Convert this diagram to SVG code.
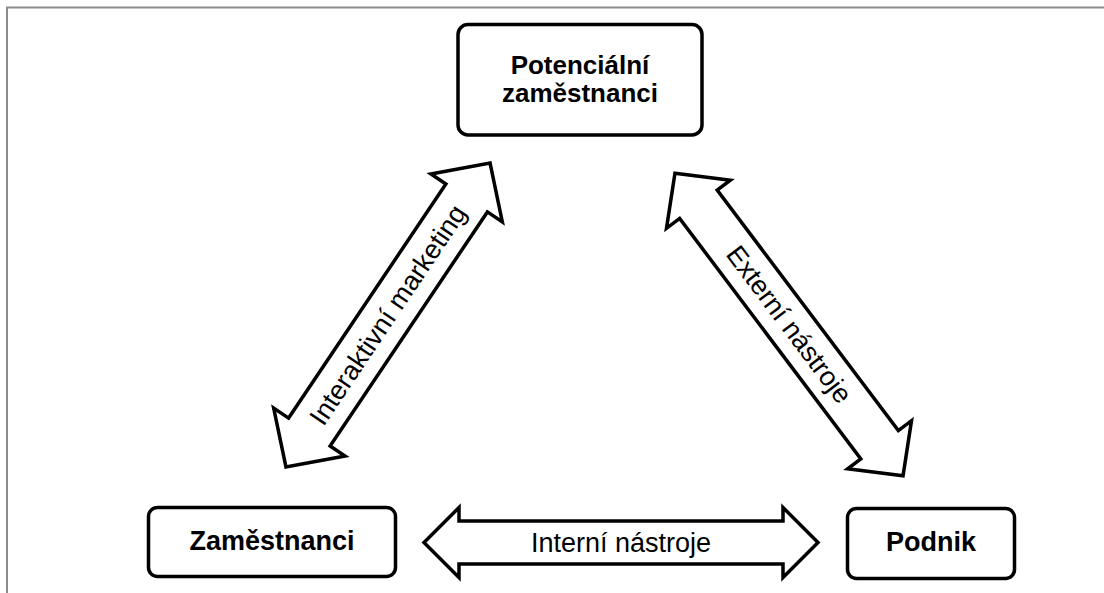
<svg xmlns="http://www.w3.org/2000/svg" width="1104" height="593" viewBox="0 0 1104 593">
<style>
.box{fill:#fff;stroke:#000;stroke-width:3.5}
.arr{fill:#fff;stroke:#000;stroke-width:3.5;stroke-linejoin:miter;stroke-miterlimit:10}
.bt{font-family:"Liberation Sans",Arial,sans-serif;font-weight:bold;font-size:27px;fill:#000;text-anchor:middle}
.bt2{font-family:"Liberation Sans",Arial,sans-serif;font-weight:bold;font-size:26px;fill:#000;text-anchor:middle}
.lt{font-family:"Liberation Sans",Arial,sans-serif;font-size:27px;fill:#000;text-anchor:middle;dominant-baseline:central}
</style>
<rect width="1104" height="593" fill="#fff"/>
<path d="M7,593 V7.5 H1104" fill="none" stroke="#8c8c8c" stroke-width="2"/>
<g id="connectors">
<g id="arrow-interaktivni" transform="translate(388,315) rotate(-56.1)">
<path class="arr" d="M-183,0 L-141,-43 L-141,-25 L141,-25 L141,-43 L183,0 L141,43 L141,25 L-141,25 L-141,43 Z"/>
<text class="lt" x="0" y="0">Interaktivní marketing</text>
</g>
<g id="arrow-externi" transform="translate(789,324.5) rotate(53)">
<path class="arr" d="M-189.5,0 L-150.5,-40 L-150.5,-23.5 L150.5,-23.5 L150.5,-40 L189.5,0 L150.5,40 L150.5,23.5 L-150.5,23.5 L-150.5,40 Z"/>
<text class="lt" x="0" y="0">Externí nástroje</text>
</g>
<g id="arrow-interni" transform="translate(621,542.5)">
<path class="arr" d="M-197,0 L-162,-35 L-162,-21.5 L162,-21.5 L162,-35 L197,0 L162,35 L162,21.5 L-162,21.5 L-162,35 Z"/>
<text class="lt" x="0" y="0">Interní nástroje</text>
</g>
</g>
<g id="node-potencialni">
<rect class="box" x="458" y="24.5" width="244" height="110.5" rx="10"/>
<text class="bt2" x="580" y="73.5">Potenciální</text>
<text class="bt2" x="580" y="101.5">zaměstnanci</text>
</g>
<g id="node-zamestnanci">
<rect class="box" x="148.5" y="507.5" width="247" height="69" rx="9"/>
<text class="bt" x="272" y="550">Zaměstnanci</text>
</g>
<g id="node-podnik">
<rect class="box" x="847.5" y="508.5" width="167" height="70" rx="9"/>
<text class="bt" x="931" y="551">Podnik</text>
</g>
</svg>
